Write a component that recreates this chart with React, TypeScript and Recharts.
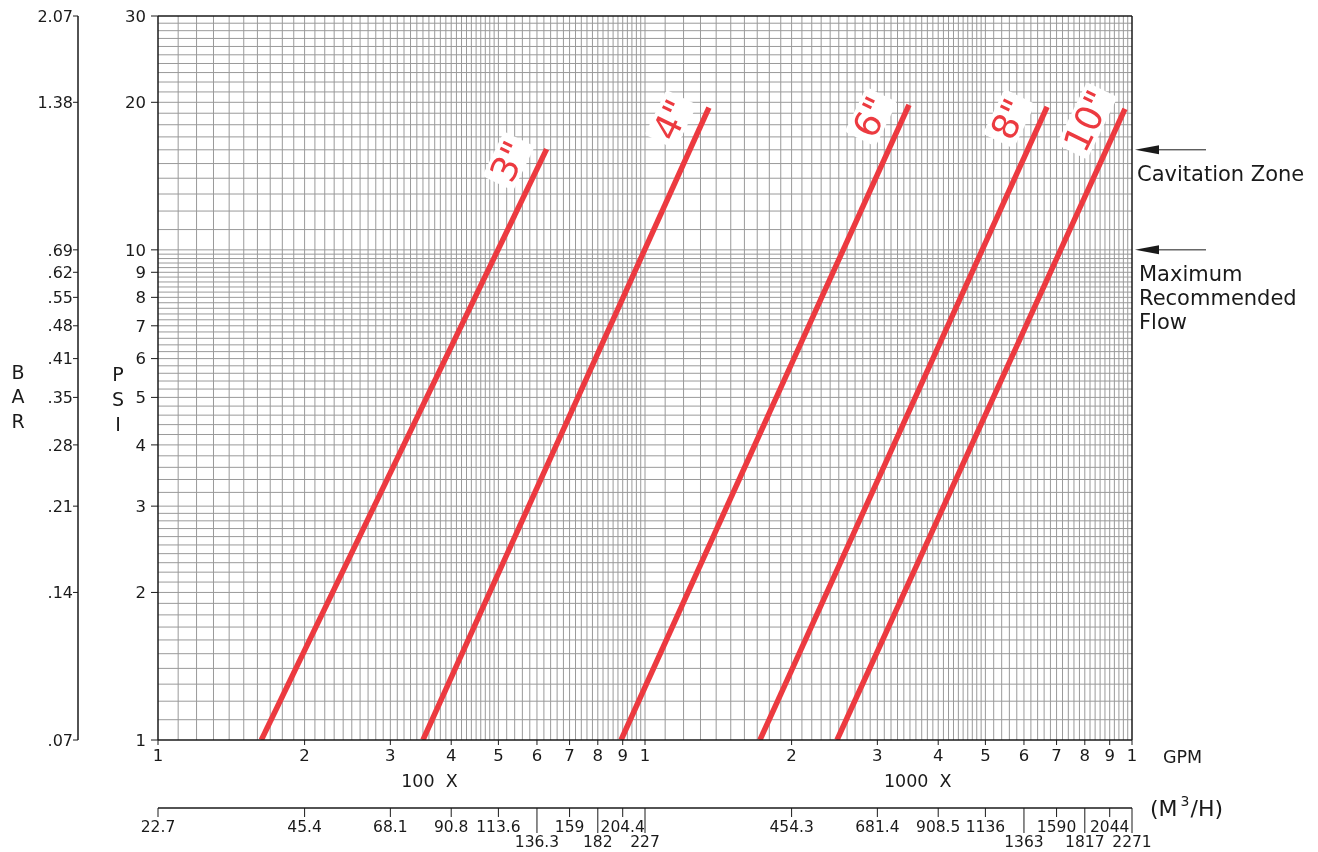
import React from 'react';
import { LineChart, Line, XAxis, YAxis, CartesianGrid, ReferenceLine, ReferenceDot } from 'recharts';

// ---------- data ----------
const sizes = ['3"', '4"', '6"', '8"', '10"'];
const gpmAtOnePsi = [163, 350, 893, 1722, 2479];
const gpmAtTop = [628, 1353, 3484, 6693, 9674];
const psiAtTop = [16.05, 19.5, 19.77, 19.58, 19.4];

const psiTicks = [1, 2, 3, 4, 5, 6, 7, 8, 9, 10, 20, 30];
const barLabels = ['.07', '.14', '.21', '.28', '.35', '.41', '.48', '.55', '.62', '.69', '1.38', '2.07'];

const gpmTicks = [100, 200, 300, 400, 500, 600, 700, 800, 900, 1000, 2000, 3000, 4000, 5000, 6000, 7000, 8000, 9000, 10000];
const gpmLabels = ['1', '2', '3', '4', '5', '6', '7', '8', '9', '1', '2', '3', '4', '5', '6', '7', '8', '9', '1'];
const m3hLabels = ['22.7', '45.4', '68.1', '90.8', '113.6', '136.3', '159', '182', '204.4', '227', '454.3', '681.4', '908.5', '1136', '1363', '1590', '1817', '2044', '2271'];
const m3hRow = [0, 0, 0, 0, 0, 1, 0, 1, 0, 1, 0, 0, 0, 0, 1, 0, 1, 0, 1];

const decadeLabels = ['100  X', '1000  X'];
const annotations = [
  { psi: 16, lines: ['Cavitation Zone'] },
  { psi: 10, lines: ['Maximum', 'Recommended', 'Flow'] },
];

// grid line values (log paper)
const range = (a: number, b: number, s: number) => {
  const out: number[] = [];
  for (let v = a; v < b - s / 2; v += s) out.push(Math.round(v * 1000) / 1000);
  return out;
};
const hGrid = [...range(1.1, 3, 0.1), ...range(3, 10, 0.2), ...range(10, 30, 1)];
const decadeSteps = [...range(110, 300, 10), ...range(300, 500, 10), ...range(500, 1000, 20)];
const vGrid = [...decadeSteps, 1000, ...decadeSteps.map((v) => v * 10)];

const seriesData = sizes.map((_, i) => [
  { gpm: gpmAtOnePsi[i], psi: 1 },
  { gpm: gpmAtTop[i], psi: psiAtTop[i] },
]);

const RED = '#ec3a40';
const FONT = '"DejaVu Sans", sans-serif';
const INK = '#1a1a1a';

// ---------- custom pieces ----------
const Letters = ({ viewBox, letters, fromRight, offsets }: any) => {
  const vb = viewBox || { x: 0, y: 8, width: 70, height: 724 };
  const cx = vb.x + vb.width - fromRight;
  const cy = vb.y + vb.height / 2;
  return (
    <text fontFamily={FONT} fontSize={19} fill={INK} textAnchor="middle">
      {letters.map((l: string, i: number) => (
        <tspan key={i} x={cx} y={cy + offsets[i] + 7}>{l}</tspan>
      ))}
    </text>
  );
};

const GpmAxisLabel = ({ viewBox }: any) => {
  const vb = viewBox || { x: 150, y: 732, width: 974, height: 68 };
  return (
    <g fontFamily={FONT} fill={INK}>
      <text x={vb.x + vb.width + 31} y={vb.y + 23} fontSize={17.5} fill={INK}>GPM</text>
      <text x={vb.x + 0.2787 * vb.width} y={vb.y + 47} fontSize={17.5} fill={INK} textAnchor="middle" style={{ whiteSpace: 'pre' }}>{decadeLabels[0]}</text>
      <text x={vb.x + 0.78 * vb.width} y={vb.y + 47} fontSize={17.5} fill={INK} textAnchor="middle" style={{ whiteSpace: 'pre' }}>{decadeLabels[1]}</text>
    </g>
  );
};

const M3hAxisLabel = ({ viewBox }: any) => {
  const vb = viewBox || { x: 150, y: 800, width: 974, height: 40 };
  return (
    <text x={vb.x + vb.width + 18} y={vb.y + 8} fontFamily={FONT} fontSize={22} fill={INK}>
      (M
      <tspan fontSize={14} dy={-10} dx={3}>3</tspan>
      <tspan dy={10} dx={1}>/H)</tspan>
    </text>
  );
};

const M3hTick = (props: any) => {
  const { x, y, payload } = props;
  const i = gpmTicks.indexOf(payload.value);
  const row = m3hRow[i];
  const len = row ? 25 : 9;
  return (
    <g>
      <line x1={x} x2={x} y1={y} y2={y + len} stroke={INK} strokeWidth={1} />
      <text x={x} y={row ? y + 38.5 : y + 23.5} textAnchor="middle" fontFamily={FONT} fontSize={15.5} fill={INK}>
        {m3hLabels[i]}
      </text>
    </g>
  );
};

const SizeLabel = ({ cx, cy, text }: any) => {
  const fs = 36;
  const w = text.length * fs * 0.55 + 10;
  const h = fs * 0.95;
  return (
    <g transform={`translate(${cx - 38},${cy + 12}) rotate(-64)`}>
      <rect x={-w / 2} y={-h / 2} width={w} height={h} fill="#fff" rx={3} />
      <text x={0} y={0} dy="0.36em" textAnchor="middle" fontFamily={FONT} fontSize={fs} fill={RED}>
        {text}
      </text>
    </g>
  );
};

const arrowShape = (lines: string[]) => (p: any) => {
  const xr = Math.max(p.x1, p.x2);
  const y = p.y1;
  const tip = xr + 3;
  return (
    <g>
      <line x1={tip + 20} x2={tip + 71} y1={y} y2={y} stroke={INK} strokeWidth={1} />
      <polygon points={`${tip},${y} ${tip + 24},${y - 4.5} ${tip + 24},${y + 4.5}`} fill={INK} />
      <text fontFamily={FONT} fontSize={21} fill={INK}>
        {lines.map((l, i) => (
          <tspan key={i} x={lines.length > 1 ? xr + 7 : xr + 5} y={y + 31 + i * 24}>{l}</tspan>
        ))}
      </text>
    </g>
  );
};

export default function App() {
  return (
    <div style={{ position: 'fixed', left: 8, top: 8 }}>
      <LineChart width={1310} height={844} margin={{ top: 8, right: 186, bottom: 4, left: 0 }} style={{ fontFamily: FONT }}>
        <CartesianGrid stroke="#9a9a9a" strokeWidth={1} horizontalValues={hGrid} verticalValues={vGrid} />
        <XAxis
          dataKey="gpm"
          type="number"
          scale="log"
          domain={[100, 10000]}
          allowDataOverflow
          ticks={gpmTicks}
          interval={0}
          tickFormatter={(v: number) => gpmLabels[gpmTicks.indexOf(v)]}
          height={68}
          tickSize={5}
          tickMargin={4}
          tick={{ fontSize: 16.5, fill: INK, fontFamily: FONT }}
          axisLine={{ stroke: INK, strokeWidth: 1.5 }}
          tickLine={{ stroke: INK }}
          label={<GpmAxisLabel />}
        />
        <XAxis
          xAxisId="m3h"
          dataKey="gpm"
          type="number"
          scale="log"
          domain={[100, 10000]}
          allowDataOverflow
          ticks={gpmTicks}
          interval={0}
          height={40}
          tickSize={0}
          tickMargin={0}
          tickLine={false}
          tick={<M3hTick />}
          axisLine={{ stroke: INK, strokeWidth: 1.5 }}
          label={<M3hAxisLabel />}
        />
        <YAxis
          dataKey="psi"
          type="number"
          scale="log"
          domain={[1, 30]}
          allowDataOverflow
          ticks={psiTicks}
          interval={0}
          width={80}
          tickSize={7}
          tickMargin={5}
          tick={{ fontSize: 16.5, fill: INK, fontFamily: FONT }}
          axisLine={{ stroke: INK, strokeWidth: 1.5 }}
          tickLine={{ stroke: INK }}
          label={<Letters letters={['P', 'S', 'I']} fromRight={40} offsets={[-4, 21, 46]} />}
        />
        <YAxis
          yAxisId="bar"
          type="number"
          scale="log"
          domain={[1, 30]}
          allowDataOverflow
          ticks={psiTicks}
          interval={0}
          tickFormatter={(v: number) => barLabels[psiTicks.indexOf(v)]}
          width={70}
          tickSize={5}
          tickMargin={0}
          tick={{ fontSize: 16, fill: INK, fontFamily: FONT }}
          axisLine={{ stroke: INK, strokeWidth: 1.5 }}
          tickLine={{ stroke: INK }}
          label={<Letters letters={['B', 'A', 'R']} fromRight={60} offsets={[-6, 18, 43]} />}
        />
        <ReferenceLine y={30} stroke={INK} strokeWidth={1.5} />
        <ReferenceLine x={10000} stroke={INK} strokeWidth={1.5} />
        {seriesData.map((d, i) => (
          <Line
            key={sizes[i]}
            data={d}
            dataKey="psi"
            stroke={RED}
            strokeWidth={5.5}
            strokeLinecap="butt"
            dot={false}
            activeDot={false}
            isAnimationActive={false}
          />
        ))}
        {sizes.map((s, i) => (
          <ReferenceDot
            key={'lbl' + i}
            x={gpmAtTop[i]}
            y={psiAtTop[i]}
            shape={(p: any) => <SizeLabel cx={p.cx} cy={p.cy} text={s} />}
          />
        ))}
        {annotations.map((a, i) => (
          <ReferenceLine key={'ann' + i} y={a.psi} stroke="none" shape={arrowShape(a.lines)} />
        ))}
      </LineChart>
    </div>
  );
}
